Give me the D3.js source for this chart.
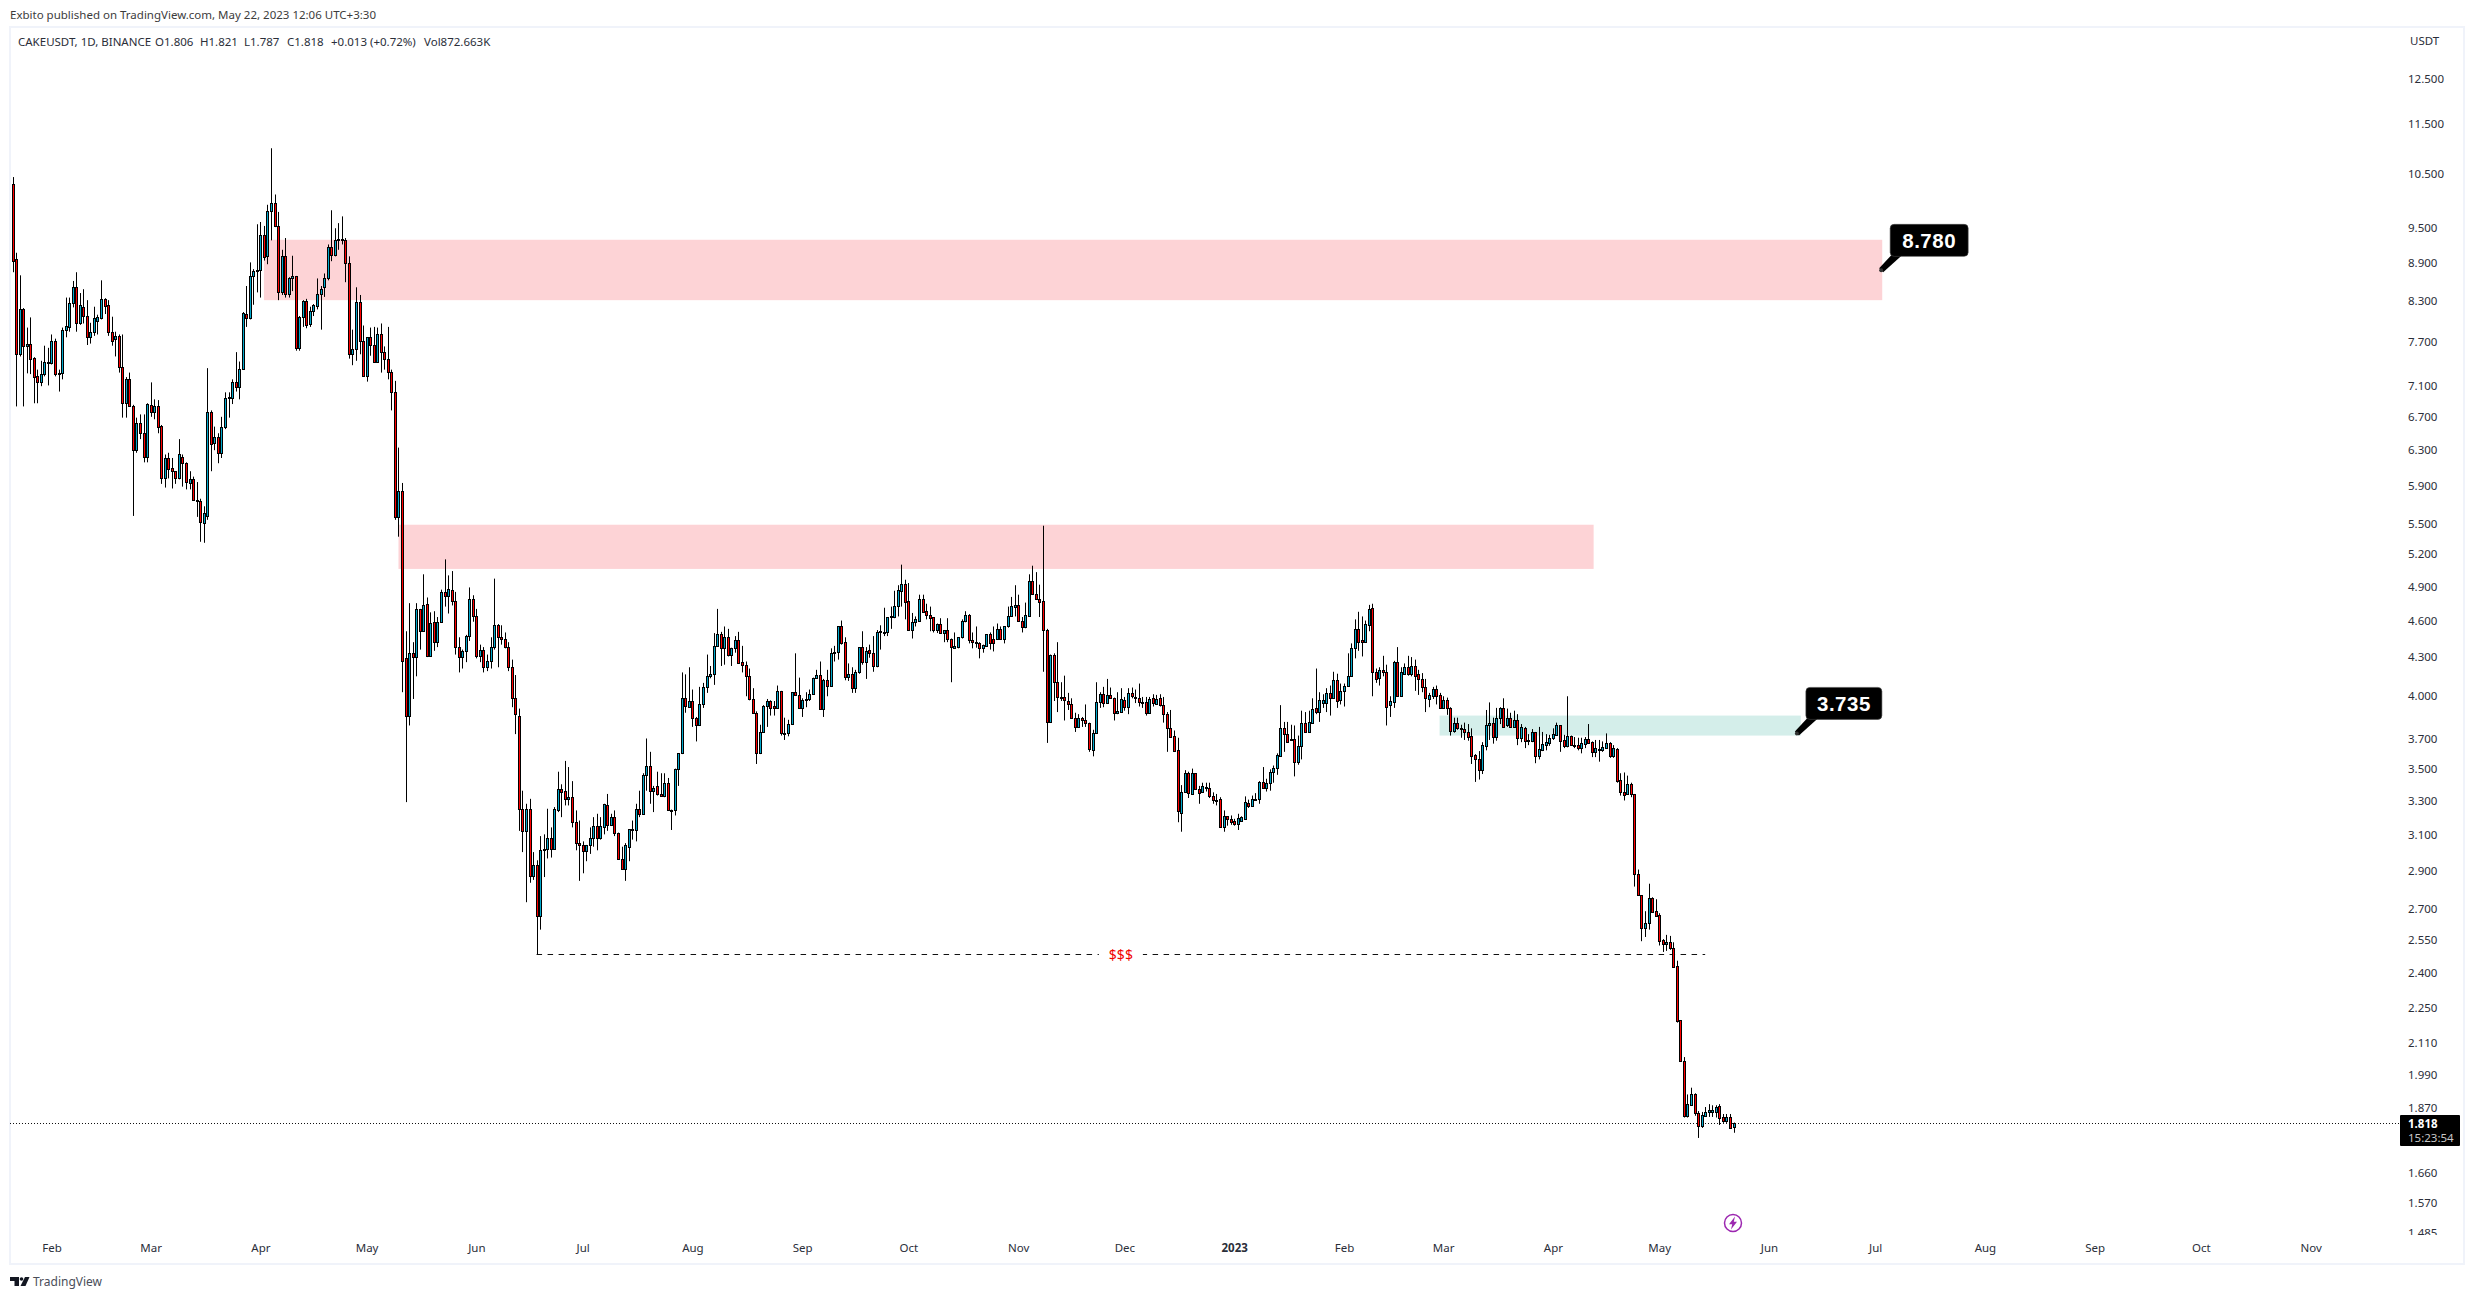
<!DOCTYPE html>
<html>
<head>
<meta charset="utf-8">
<title>CAKEUSDT</title>
<script src="https://cdn.jsdelivr.net/npm/d3@7"></script>
<style>
  html, body { margin: 0; padding: 0; background: #fff; }
  svg { display: block; }
  text { font-family: "Noto Sans", sans-serif; }
</style>
</head>
<body>
<div id="chart"></div>
<script>
// daily candles, [open, high, low, close]
var jan22 = [[10.30,10.43,8.75,8.93],[8.96,9.07,6.83,7.53],[7.53,8.70,7.49,8.18],[8.18,8.19,6.83,7.63],[7.63,7.90,7.26,7.67],[7.67,8.05,7.25,7.46],[7.47,7.48,6.87,7.21],[7.22,7.31,6.87,7.14],[7.15,7.43,7.09,7.25],[7.25,7.64,7.22,7.41],[7.41,7.61,7.10,7.42]];
var feb22 = [[7.40,7.80,7.38,7.70],[7.70,7.74,7.22,7.25],[7.25,7.31,7.02,7.26],[7.27,7.90,7.18,7.86],[7.86,8.35,7.76,7.93],[7.91,8.35,7.84,8.27],[8.27,8.61,8.20,8.51],[8.51,8.75,7.84,7.97],[7.97,8.42,7.94,8.23],[8.21,8.48,7.96,8.07],[8.07,8.31,7.65,7.76],[7.76,7.97,7.67,7.83],[7.83,8.21,7.78,8.04],[8.00,8.09,7.80,8.05],[8.04,8.62,8.02,8.33],[8.33,8.34,8.10,8.22],[8.24,8.31,7.78,7.84],[7.84,8.06,7.64,7.71],[7.73,7.84,7.49,7.78],[7.78,7.80,7.27,7.35],[7.35,7.80,6.69,6.87],[6.87,7.21,6.69,7.19],[7.19,7.27,6.83,6.84],[6.84,6.85,5.58,6.30],[6.30,6.69,6.27,6.62],[6.62,6.73,6.43,6.50],[6.50,6.73,6.16,6.22],[6.22,6.87,6.16,6.86]];
var mar22 = [[6.85,7.14,6.70,6.76],[6.76,6.92,6.67,6.84],[6.84,6.91,6.50,6.58],[6.59,6.60,5.92,5.99],[5.99,6.25,5.88,6.21],[6.21,6.27,5.98,6.09],[6.10,6.21,5.87,6.06],[6.06,6.06,5.92,5.98],[5.98,6.43,5.97,6.25],[6.22,6.25,5.89,6.15],[6.15,6.16,5.86,5.94],[5.93,6.06,5.86,5.97],[5.97,6.00,5.74,5.75],[5.75,5.94,5.57,5.74],[5.74,5.76,5.32,5.52],[5.51,5.68,5.31,5.61],[5.58,7.33,5.54,6.76],[6.76,6.78,6.06,6.37],[6.38,6.58,6.30,6.46],[6.46,6.50,6.15,6.27],[6.27,6.70,6.21,6.58],[6.58,7.01,6.55,6.94],[6.94,7.01,6.69,6.95],[6.94,7.18,6.86,7.14],[7.15,7.55,7.02,7.08],[7.08,7.42,6.92,7.32],[7.32,8.13,7.31,8.11],[8.10,8.53,7.91,8.04],[8.04,8.91,8.02,8.69],[8.69,8.80,8.24,8.77],[8.77,9.56,8.43,8.78]];
var apr22 = [[8.78,9.60,8.35,9.37],[9.37,9.53,8.94,9.00],[9.01,9.91,8.88,9.80],[9.80,11.00,9.28,9.95],[9.95,10.10,9.51,9.53],[9.53,9.78,8.31,8.43],[8.43,9.12,8.39,9.01],[9.01,9.32,8.35,8.41],[8.41,8.67,8.35,8.65],[8.65,9.02,8.45,8.69],[8.69,8.69,7.57,7.61],[7.61,8.07,7.57,8.06],[8.06,8.31,7.91,8.30],[8.30,8.33,7.89,7.94],[7.95,8.21,7.91,8.15],[8.15,8.25,8.07,8.24],[8.22,8.65,8.17,8.41],[8.41,8.53,7.87,8.49],[8.51,8.73,8.36,8.65],[8.65,9.21,8.62,9.17],[9.17,9.81,8.93,9.04],[9.04,9.49,9.01,9.28],[9.29,9.58,9.12,9.30],[9.30,9.70,9.21,9.31],[9.28,9.32,8.59,8.90],[8.90,9.01,7.46,7.53],[7.53,7.87,7.37,7.60],[7.60,8.51,7.43,8.28],[8.28,8.39,7.52,7.71],[7.71,7.93,7.22,7.22]];
var may22 = [[7.22,7.76,7.15,7.76],[7.76,7.90,7.50,7.65],[7.65,7.91,7.41,7.41],[7.41,7.90,7.41,7.80],[7.80,7.96,7.27,7.55],[7.55,7.63,7.31,7.46],[7.46,7.91,7.18,7.28],[7.28,7.31,6.78,7.02],[7.02,7.16,5.54,5.57],[5.57,6.33,5.37,5.84],[5.84,5.93,4.03,4.27],[4.29,4.51,3.29,3.86],[3.86,4.75,3.79,4.33],[4.33,4.42,3.98,4.30],[4.30,4.75,4.15,4.70],[4.70,4.70,4.36,4.51],[4.51,5.01,4.51,4.73],[4.74,4.80,4.30,4.31],[4.31,4.67,4.31,4.58],[4.59,4.68,4.35,4.42],[4.42,4.63,4.38,4.59],[4.59,4.87,4.58,4.85],[4.85,5.15,4.72,4.81],[4.81,5.00,4.66,4.88],[4.87,5.04,4.73,4.77],[4.77,4.85,4.32,4.38],[4.38,4.46,4.18,4.30],[4.30,4.36,4.21,4.35],[4.35,4.48,4.26,4.47],[4.47,4.89,4.43,4.79],[4.79,4.82,4.59,4.64]];
var jun22 = [[4.64,4.70,4.29,4.31],[4.31,4.40,4.26,4.36],[4.36,4.38,4.18,4.22],[4.22,4.32,4.19,4.27],[4.27,4.46,4.21,4.38],[4.38,4.97,4.36,4.56],[4.56,4.57,4.22,4.46],[4.46,4.56,4.40,4.45],[4.45,4.50,4.37,4.38],[4.38,4.42,4.19,4.22],[4.22,4.28,3.92,3.99],[3.99,4.16,3.73,3.87],[3.86,3.91,3.12,3.25],[3.25,3.36,3.00,3.12],[3.12,3.28,2.735,3.25],[3.25,3.31,2.835,2.87],[2.87,3.00,2.85,2.93],[2.93,2.955,2.485,2.665],[2.665,3.09,2.60,3.01],[3.01,3.10,2.865,3.02],[3.02,3.25,2.965,3.08],[3.08,3.14,2.97,3.02],[3.02,3.26,3.02,3.25],[3.24,3.48,3.23,3.37],[3.37,3.40,3.20,3.355],[3.36,3.55,3.27,3.31],[3.31,3.51,3.27,3.32],[3.32,3.42,3.14,3.17],[3.17,3.24,3.01,3.05],[3.05,3.18,2.845,3.04]];
var jul22 = [[3.04,3.06,2.885,3.005],[3.005,3.04,2.95,3.04],[3.04,3.14,2.99,3.08],[3.08,3.20,3.03,3.15],[3.15,3.22,3.01,3.08],[3.08,3.20,3.07,3.15],[3.14,3.28,3.10,3.28],[3.27,3.34,3.12,3.155],[3.155,3.22,3.155,3.20],[3.20,3.24,3.09,3.11],[3.11,3.11,2.96,2.96],[2.96,3.03,2.905,2.91],[2.91,3.05,2.845,3.04],[3.03,3.13,2.95,3.13],[3.125,3.18,3.07,3.13],[3.125,3.28,3.06,3.25],[3.25,3.36,3.20,3.22],[3.22,3.47,3.22,3.46],[3.46,3.70,3.36,3.52],[3.52,3.61,3.28,3.36],[3.36,3.39,3.23,3.38],[3.39,3.48,3.33,3.34],[3.34,3.47,3.325,3.325],[3.325,3.47,3.32,3.41],[3.41,3.44,3.245,3.245],[3.245,3.245,3.125,3.24],[3.245,3.50,3.21,3.495],[3.495,3.60,3.39,3.60],[3.60,4.18,3.595,3.985],[3.985,4.165,3.88,3.93],[3.925,4.22,3.915,3.965]];
var aug22 = [[3.965,4.05,3.78,3.84],[3.84,3.85,3.68,3.79],[3.79,4.07,3.79,3.94],[3.94,4.10,3.915,4.07],[4.07,4.32,4.025,4.15],[4.15,4.23,4.135,4.165],[4.165,4.495,4.085,4.385],[4.385,4.70,4.385,4.49],[4.49,4.505,4.23,4.375],[4.375,4.55,4.24,4.46],[4.46,4.53,4.305,4.32],[4.32,4.375,4.23,4.375],[4.37,4.47,4.335,4.435],[4.435,4.505,4.25,4.25],[4.26,4.39,4.18,4.235],[4.24,4.265,4.00,4.15],[4.15,4.21,3.97,3.98],[3.98,4.06,3.88,3.88],[3.88,3.89,3.53,3.60],[3.60,3.795,3.595,3.745],[3.745,3.935,3.74,3.93],[3.93,3.98,3.78,3.965],[3.965,3.97,3.86,3.915],[3.93,3.965,3.86,3.915],[3.915,4.08,3.915,4.04],[4.04,4.04,3.72,3.74],[3.74,3.845,3.69,3.735],[3.74,3.83,3.715,3.80],[3.80,4.03,3.80,4.03],[4.03,4.33,4.01,4.01],[4.01,4.14,3.915,3.915]];
var sep22 = [[3.915,3.985,3.85,3.97],[3.97,4.03,3.92,3.98],[3.98,4.05,3.965,4.02],[4.02,4.14,4.02,4.14],[4.135,4.20,4.13,4.16],[4.16,4.265,3.90,3.905],[3.905,4.13,3.85,4.12],[4.12,4.20,4.00,4.08],[4.08,4.37,4.08,4.33],[4.33,4.39,4.265,4.34],[4.34,4.55,4.28,4.55],[4.55,4.60,4.40,4.41],[4.425,4.46,4.12,4.145],[4.145,4.25,4.115,4.17],[4.17,4.22,4.025,4.065],[4.065,4.20,4.025,4.18],[4.18,4.38,4.17,4.38],[4.38,4.51,4.24,4.26],[4.26,4.38,4.13,4.35],[4.36,4.40,4.295,4.335],[4.335,4.47,4.185,4.23],[4.23,4.52,4.22,4.505],[4.505,4.56,4.36,4.51],[4.50,4.71,4.47,4.505],[4.505,4.63,4.47,4.63],[4.63,4.72,4.53,4.635],[4.63,4.86,4.62,4.725],[4.725,4.91,4.635,4.87],[4.86,5.10,4.72,4.925],[4.925,4.96,4.61,4.76]];
var oct22 = [[4.77,4.93,4.52,4.52],[4.52,4.665,4.45,4.59],[4.59,4.635,4.55,4.61],[4.60,4.825,4.60,4.79],[4.79,4.825,4.67,4.67],[4.68,4.745,4.61,4.645],[4.645,4.72,4.51,4.62],[4.63,4.63,4.50,4.52],[4.52,4.575,4.495,4.575],[4.575,4.62,4.495,4.495],[4.495,4.52,4.42,4.52],[4.52,4.62,4.42,4.45],[4.45,4.45,4.105,4.38],[4.375,4.50,4.375,4.385],[4.38,4.46,4.37,4.46],[4.46,4.61,4.45,4.60],[4.595,4.68,4.585,4.645],[4.645,4.655,4.41,4.44],[4.44,4.50,4.37,4.425],[4.425,4.55,4.375,4.41],[4.41,4.42,4.29,4.37],[4.37,4.40,4.335,4.40],[4.385,4.485,4.385,4.485],[4.485,4.50,4.36,4.41],[4.45,4.55,4.345,4.41],[4.45,4.575,4.45,4.53],[4.53,4.55,4.44,4.45],[4.45,4.55,4.41,4.55],[4.55,4.72,4.54,4.635],[4.635,4.805,4.635,4.725],[4.72,4.91,4.635,4.735]];
var nov22 = [[4.735,4.825,4.595,4.60],[4.60,4.63,4.50,4.545],[4.545,4.755,4.535,4.645],[4.635,5.01,4.635,4.945],[4.945,5.09,4.825,4.835],[4.835,5.03,4.79,4.79],[4.79,4.915,4.63,4.76],[4.77,5.48,4.185,4.52],[4.52,4.53,3.67,3.815],[3.815,4.32,3.815,4.32],[4.32,4.33,3.965,4.105],[4.105,4.42,3.885,3.995],[3.995,4.105,3.965,3.99],[3.995,4.155,3.825,3.97],[3.965,4.025,3.90,3.945],[3.945,3.985,3.84,3.84],[3.845,3.88,3.745,3.78],[3.78,3.87,3.78,3.84],[3.84,3.85,3.78,3.825],[3.83,3.94,3.78,3.81],[3.81,3.81,3.61,3.63],[3.62,3.76,3.58,3.74],[3.74,4.105,3.74,3.955],[3.955,4.03,3.915,4.015],[4.015,4.07,3.92,3.95],[3.95,4.13,3.95,4.01],[4.01,4.065,3.98,3.985],[3.985,3.99,3.825,3.88],[3.875,4.03,3.87,3.895],[3.885,4.06,3.885,3.98]];
var dec22 = [[3.97,3.995,3.895,3.925],[3.925,4.06,3.87,4.025],[4.025,4.065,3.985,4.00],[3.995,4.05,3.95,3.99],[3.99,4.095,3.925,3.955],[3.955,3.995,3.915,3.95],[3.96,3.995,3.86,3.88],[3.88,3.995,3.875,3.98],[3.985,4.015,3.925,3.95],[3.945,4.01,3.945,3.98],[3.985,4.015,3.925,3.935],[3.935,3.995,3.81,3.87],[3.87,3.885,3.61,3.77],[3.77,3.90,3.71,3.71],[3.72,3.755,3.61,3.615],[3.62,3.705,3.17,3.235],[3.225,3.395,3.115,3.355],[3.35,3.49,3.35,3.47],[3.47,3.48,3.315,3.345],[3.34,3.50,3.34,3.47],[3.47,3.47,3.37,3.37],[3.37,3.39,3.28,3.345],[3.355,3.41,3.35,3.39],[3.385,3.41,3.355,3.38],[3.38,3.41,3.315,3.325],[3.33,3.35,3.28,3.305],[3.305,3.34,3.27,3.30],[3.31,3.32,3.14,3.145],[3.145,3.24,3.115,3.205],[3.205,3.205,3.15,3.19],[3.19,3.21,3.155,3.17]];
var jan23 = [[3.175,3.19,3.15,3.16],[3.16,3.22,3.125,3.195],[3.18,3.205,3.18,3.20],[3.19,3.325,3.19,3.29],[3.285,3.305,3.255,3.265],[3.265,3.33,3.265,3.31],[3.305,3.345,3.305,3.31],[3.31,3.42,3.28,3.415],[3.415,3.51,3.375,3.38],[3.375,3.435,3.355,3.41],[3.41,3.495,3.36,3.475],[3.475,3.52,3.41,3.505],[3.505,3.60,3.46,3.59],[3.58,3.935,3.58,3.775],[3.775,3.815,3.61,3.73],[3.73,3.815,3.675,3.675],[3.695,3.795,3.69,3.69],[3.695,3.79,3.45,3.545],[3.54,3.72,3.525,3.65],[3.65,3.895,3.56,3.81],[3.81,3.885,3.74,3.745],[3.745,3.895,3.74,3.815],[3.81,3.985,3.805,3.905],[3.915,4.21,3.87,3.885],[3.885,4.03,3.815,3.97],[3.95,4.015,3.915,3.97],[3.95,4.06,3.885,4.025],[4.025,4.08,3.86,3.99],[3.99,4.185,3.99,4.12],[4.12,4.17,3.915,3.965],[3.97,4.095,3.94,4.04]];
var feb23 = [[4.04,4.095,3.925,4.08],[4.08,4.33,4.07,4.15],[4.15,4.41,4.15,4.37],[4.37,4.61,4.29,4.53],[4.53,4.675,4.35,4.425],[4.435,4.635,4.305,4.425],[4.425,4.60,4.425,4.575],[4.565,4.735,4.51,4.70],[4.71,4.745,4.00,4.18],[4.18,4.21,4.10,4.13],[4.135,4.22,4.08,4.20],[4.20,4.31,4.15,4.18],[4.18,4.24,3.79,3.925],[3.935,4.00,3.85,3.965],[3.955,4.27,3.915,4.26],[4.26,4.38,4.00,4.00],[4.00,4.22,4.00,4.18],[4.17,4.25,4.165,4.22],[4.22,4.31,4.155,4.165],[4.165,4.30,4.15,4.23],[4.23,4.28,4.04,4.155],[4.165,4.20,4.01,4.13],[4.13,4.175,4.03,4.07],[4.07,4.13,3.885,3.985],[3.98,4.025,3.92,4.01],[4.00,4.07,3.98,4.055],[4.055,4.08,3.94,4.00],[4.01,4.025,3.915,3.915]];
var mar23 = [[3.915,4.00,3.915,3.97],[3.97,3.99,3.865,3.915],[3.915,3.92,3.72,3.755],[3.755,3.845,3.74,3.81],[3.81,3.845,3.76,3.77],[3.77,3.795,3.705,3.765],[3.765,3.81,3.69,3.745],[3.745,3.80,3.685,3.71],[3.715,3.77,3.53,3.58],[3.59,3.595,3.415,3.565],[3.565,3.615,3.43,3.49],[3.49,3.675,3.465,3.655],[3.65,3.90,3.62,3.79],[3.79,3.955,3.69,3.81],[3.81,3.845,3.665,3.71],[3.71,3.915,3.685,3.84],[3.84,3.92,3.80,3.915],[3.915,3.985,3.775,3.78],[3.79,3.91,3.78,3.84],[3.84,3.88,3.78,3.78],[3.78,3.895,3.78,3.83],[3.83,3.87,3.655,3.705],[3.705,3.80,3.675,3.78],[3.775,3.78,3.635,3.68],[3.69,3.73,3.655,3.685],[3.68,3.765,3.675,3.745],[3.745,3.745,3.535,3.58],[3.58,3.78,3.56,3.63],[3.62,3.745,3.615,3.66],[3.655,3.73,3.62,3.675],[3.67,3.725,3.65,3.705]];
var apr23 = [[3.705,3.77,3.69,3.73],[3.725,3.81,3.72,3.79],[3.79,3.79,3.61,3.68],[3.69,3.725,3.635,3.65],[3.65,4.00,3.64,3.72],[3.72,3.72,3.655,3.655],[3.655,3.71,3.635,3.65],[3.655,3.705,3.62,3.635],[3.635,3.705,3.60,3.67],[3.66,3.71,3.635,3.695],[3.695,3.80,3.67,3.67],[3.675,3.68,3.575,3.61],[3.61,3.69,3.575,3.635],[3.63,3.69,3.545,3.625],[3.62,3.68,3.61,3.64],[3.635,3.735,3.635,3.67],[3.67,3.675,3.57,3.58],[3.58,3.655,3.57,3.635],[3.63,3.635,3.41,3.42],[3.43,3.47,3.33,3.35],[3.355,3.475,3.30,3.335],[3.34,3.455,3.34,3.40],[3.40,3.41,3.32,3.34],[3.34,3.34,2.815,2.88],[2.88,2.905,2.77,2.77],[2.77,2.77,2.545,2.61],[2.61,2.69,2.565,2.63],[2.63,2.83,2.60,2.755],[2.755,2.76,2.685,2.685],[2.69,2.75,2.665,2.665]];
var may23 = [[2.67,2.68,2.525,2.545],[2.55,2.555,2.495,2.53],[2.53,2.575,2.50,2.54],[2.54,2.57,2.505,2.515],[2.515,2.54,2.425,2.425],[2.43,2.455,2.19,2.195],[2.20,2.20,2.04,2.04],[2.04,2.055,1.838,1.844],[1.844,1.918,1.838,1.884],[1.88,1.942,1.88,1.918],[1.918,1.922,1.844,1.854],[1.854,1.86,1.77,1.81],[1.81,1.857,1.803,1.847],[1.844,1.874,1.84,1.857],[1.857,1.884,1.84,1.864],[1.857,1.88,1.84,1.864],[1.857,1.88,1.838,1.874],[1.877,1.884,1.813,1.838],[1.84,1.85,1.82,1.827],[1.827,1.85,1.82,1.84],[1.84,1.85,1.803,1.803],[1.806,1.821,1.787,1.818]];

var candles = [].concat(jan22, feb22, mar22, apr22, may22, jun22, jul22, aug22, sep22, oct22, nov22, dec22, jan23, feb23, mar23, apr23, may23);

// tick labels on the right hand price scale
var priceTicks = [12.5, 11.5, 10.5, 9.5, 8.9, 8.3, 7.7, 7.1, 6.7, 6.3, 5.9, 5.5, 5.2, 4.9, 4.6, 4.3, 4.0, 3.7, 3.5, 3.3, 3.1, 2.9, 2.7, 2.55, 2.4, 2.25, 2.11, 1.99, 1.87, 1.66, 1.57, 1.485];
var monthTicks = ["2022-02-01", "2022-03-01", "2022-04-01", "2022-05-01", "2022-06-01", "2022-07-01", "2022-08-01", "2022-09-01", "2022-10-01", "2022-11-01", "2022-12-01", "2023-01-01", "2023-02-01", "2023-03-01", "2023-04-01", "2023-05-01", "2023-06-01", "2023-07-01", "2023-08-01", "2023-09-01", "2023-10-01", "2023-11-01"];

// supply and demand boxes, start and end counted in days from the first candle
var zoneHighs = [9.29, 5.49, 3.86];
var zoneLows = [8.31, 5.06, 3.72];
var zoneStarts = [71, 109, 403];
var zoneEnds = [528, 446.5, 505];

var calloutPrices = [8.78, 3.735];
var calloutDays = [527.7, 503.9];

var liquidityPrice = 2.487;
var liquidityDays = [148, 478];
var lastPrice = 1.818;
var legendParts = ["CAKEUSDT, 1D, BINANCE", "O1.806", "H1.821", "L1.787", "C1.818", "+0.013 (+0.72%)", "Vol872.663K"];
var legendOffsets = [18, 155, 200, 244, 287, 331, 424];

var width = 2474, height = 1299;
var firstDay = Date.UTC(2022, 0, 21);
var dayMs = 86400000;

function dayDate(i) {
  return new Date(firstDay + i * dayMs);
}

var x = d3.scaleUtc()
  .domain([dayDate(0), dayDate(486)])
  .range([12.5, 1733.5]);

var y = d3.scaleLog()
  .domain([12.5, 1.66])
  .range([79, 1172.7]);

var svg = d3.select("#chart").append("svg")
  .attr("width", width)
  .attr("height", height);

// the lowest price label is cut by the bottom of the pane
svg.append("defs").append("clipPath").attr("id", "priceClip")
  .append("rect").attr("x", 2380).attr("y", 30).attr("width", 90).attr("height", 1205);

// frame
svg.append("rect")
  .attr("x", 10).attr("y", 27).attr("width", 2454).attr("height", 1237)
  .attr("fill", "none").attr("stroke", "#f0f3fa").attr("stroke-width", 2);

svg.append("text").attr("x", 10).attr("y", 19)
  .attr("font-size", 11.5).attr("fill", "#3c3c3c")
  .text("Exbito published on TradingView.com, May 22, 2023 12:06 UTC+3:30");

svg.selectAll(".legend").data(legendParts).join("text")
  .attr("class", "legend")
  .attr("x", (d, i) => legendOffsets[i])
  .attr("y", 46)
  .attr("font-size", 11.5).attr("fill", "#2a2e39")
  .text(d => d);

// zones
var zoneColors = ["#fdd3d6", "#fdd3d6", "#d4eeea"];
svg.selectAll(".zone").data(zoneHighs).join("rect")
  .attr("class", "zone")
  .attr("x", (d, i) => x(dayDate(zoneStarts[i])))
  .attr("y", d => y(d))
  .attr("width", (d, i) => x(dayDate(zoneEnds[i])) - x(dayDate(zoneStarts[i])))
  .attr("height", (d, i) => y(zoneLows[i]) - y(d))
  .attr("fill", (d, i) => zoneColors[i]);

// last price line
svg.append("line")
  .attr("x1", 10).attr("x2", 2400)
  .attr("y1", Math.round(y(lastPrice)) + 0.5).attr("y2", Math.round(y(lastPrice)) + 0.5)
  .attr("stroke", "#111").attr("stroke-dasharray", "1 2");

// $$$ line
var liqY = Math.round(y(liquidityPrice)) + 0.5;
var liqX1 = x(dayDate(liquidityDays[0]));
var liqX2 = x(dayDate(liquidityDays[1]));
svg.append("line")
  .attr("x1", liqX1).attr("x2", liqX2)
  .attr("y1", liqY).attr("y2", liqY)
  .attr("stroke", "#111").attr("stroke-width", 1).attr("stroke-dasharray", "5.5 5.5");
svg.append("rect")
  .attr("x", (liqX1 + liqX2) / 2 - 22).attr("y", liqY - 8)
  .attr("width", 44).attr("height", 16).attr("fill", "#fff");
svg.append("text")
  .attr("x", (liqX1 + liqX2) / 2).attr("y", liqY + 5)
  .attr("text-anchor", "middle").attr("font-size", 14).attr("fill", "#f00000")
  .text("$$$");

// candles
var candle = svg.append("g").selectAll("g").data(candles).join("g")
  .attr("transform", (d, i) => "translate(" + Math.round(x(dayDate(i))) + ",0)");

candle.append("line")
  .attr("x1", 0.5).attr("x2", 0.5)
  .attr("y1", d => y(d[1]))
  .attr("y2", d => y(d[2]))
  .attr("stroke", "#000").attr("stroke-width", 1);

candle.append("rect")
  .attr("x", -0.5)
  .attr("width", 2)
  .attr("y", d => Math.round(y(Math.max(d[0], d[3]))) + 0.5)
  .attr("height", d => Math.max(1, Math.round(y(Math.min(d[0], d[3]))) - Math.round(y(Math.max(d[0], d[3])))))
  .attr("fill", d => d[3] >= d[0] ? "#00a8cc" : "#ff0000")
  .attr("stroke", "#000").attr("stroke-width", 1);

// callouts
calloutPrices.forEach(function(price, i) {
  var px = x(dayDate(calloutDays[i]));
  var py = y(price);
  var boxW = i == 0 ? 78 : 76;
  var g = svg.append("g").attr("transform", "translate(" + px + "," + py + ")");
  g.append("path")
    .attr("d", d3.line()([[-2, -2], [11, -16], [22, -16], [2, 2]]))
    .attr("fill", "#000");
  g.append("circle").attr("r", 2).attr("fill", "#333");
  g.append("rect")
    .attr("x", 9).attr("y", -46).attr("width", boxW).attr("height", 32).attr("rx", 4)
    .attr("fill", "#000").attr("stroke", "#444").attr("stroke-width", 0.6);
  g.append("text")
    .attr("x", 9 + boxW / 2).attr("y", -22.5)
    .attr("text-anchor", "middle")
    .attr("font-size", 20.5).attr("font-weight", 700).attr("fill", "#fff")
    .style("font-family", "'Liberation Sans', sans-serif")
    .style("letter-spacing", "0.5px")
    .text(d3.format(".3f")(price));
});

// price axis
var priceAxis = svg.append("g").attr("clip-path", "url(#priceClip)")
  .append("g").attr("transform", "translate(2408,0)");
priceAxis.call(d3.axisRight(y).tickValues(priceTicks).tickFormat(d3.format(".3f")).tickSize(0).tickPadding(0));
priceAxis.select(".domain").remove();
priceAxis.selectAll("text").attr("font-size", 11.5).attr("fill", "#2a2e39").style("font-family", '"Noto Sans", sans-serif');

svg.append("text").attr("x", 2410).attr("y", 45)
  .attr("font-size", 11.5).attr("fill", "#2a2e39").text("USDT");

// last price box
svg.append("rect")
  .attr("x", 2400).attr("y", 1115).attr("width", 60).attr("height", 31).attr("rx", 1)
  .attr("fill", "#000");
svg.append("text").attr("x", 2408).attr("y", 1128)
  .attr("font-size", 11.5).attr("font-weight", 700).attr("fill", "#fff")
  .text(d3.format(".3f")(lastPrice));
svg.append("text").attr("x", 2408).attr("y", 1142)
  .attr("font-size", 11.5).attr("fill", "#c8c8c8")
  .text("15:23:54");

// time axis
var timeAxis = svg.append("g").attr("transform", "translate(0,1244)");
timeAxis.call(d3.axisBottom(x)
  .tickValues(monthTicks.map(d => new Date(d + "T00:00:00Z")))
  .tickFormat(d => d.getUTCMonth() == 0 ? d3.utcFormat("%Y")(d) : d3.utcFormat("%b")(d))
  .tickSize(0).tickPadding(0));
timeAxis.select(".domain").remove();
timeAxis.selectAll("text")
  .attr("font-size", 11.5).attr("fill", "#2a2e39")
  .style("font-family", '"Noto Sans", sans-serif')
  .attr("font-weight", d => d.getUTCMonth() == 0 ? 700 : 400);

// lightning marker over the last candle
var bolt = svg.append("g").attr("transform", "translate(1733,1223)");
bolt.append("circle").attr("r", 8.5).attr("fill", "#fff").attr("stroke", "#9c27b0").attr("stroke-width", 1.5);
bolt.append("path").attr("d", "M2 -6.5 L-4 1.2 L-0.8 1.2 L-2 6.5 L4 -1.2 L0.8 -1.2 Z").attr("fill", "#9c27b0");

// TradingView logo
var logo = svg.append("g").attr("fill", "#131722");
logo.append("path").attr("d", "M10 1277h9v9h-4.5v-5H10z");
logo.append("circle").attr("cx", 21.5).attr("cy", 1279).attr("r", 1.8);
logo.append("path").attr("d", "M25 1277h4.5l-4 9h-5z");
svg.append("text").attr("x", 33).attr("y", 1286)
  .attr("font-size", 12).attr("fill", "#4a4e59").text("TradingView");
</script>
</body>
</html>
